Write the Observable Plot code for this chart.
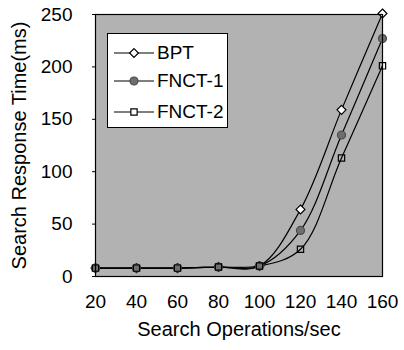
<!DOCTYPE html>
<html><head><meta charset="utf-8">
<script src="https://cdn.jsdelivr.net/npm/d3@7"></script>
<script src="https://cdn.jsdelivr.net/npm/@observablehq/plot@0.6"></script>
<style>
body{margin:0;background:#fff;}
#wrap{position:relative;width:404px;height:350px;font-family:"Liberation Sans",Arial,sans-serif;}
#legend{position:absolute;left:107px;top:33px;width:119px;height:93px;background:#fff;border:1px solid #000;}
.row{position:absolute;left:4px;height:20px;display:flex;align-items:center;font-size:19px;color:#000;}
.row svg{margin-right:3px;}
</style></head>
<body>
<div id="wrap"><div id="legend"></div></div>
<script>
const ops = [20, 40, 60, 80, 100, 120, 140, 160];
const bpt = [8, 8, 8, 9, 10, 64, 159, 251];
const fnct1 = [8, 8, 8, 9, 10, 44, 135, 227];
const fnct2 = [8, 8, 8, 9, 10, 26, 113, 201];
const seriesNames = ["BPT", "FNCT-1", "FNCT-2"];
const yTicks = [0, 50, 100, 150, 200, 250];

const seriesVals = [bpt, fnct1, fnct2];
const rows = [];
seriesNames.forEach((s, i) => ops.forEach((x, j) => rows.push({series: s, x, y: seriesVals[i][j]})));
const sym = {"BPT": {symbol: "diamond2", fill: "#fff", stroke: "#000"},
             "FNCT-1": {symbol: "circle", fill: "#6e6e6e", stroke: "#4a4a4a"},
             "FNCT-2": {symbol: "square2", fill: "none", stroke: "#000"}};

const marks = [Plot.frame({fill: "#b2b2b2"})];
seriesNames.forEach(s => {
  const d = rows.filter(r => r.series === s);
  marks.push(Plot.line(d, {x: "x", y: "y", stroke: "#000", strokeWidth: 1.2, curve: "catmull-rom"}));
});
seriesNames.forEach(s => {
  const d = rows.filter(r => r.series === s);
  marks.push(Plot.dot(d, {x: "x", y: "y", r: 4, symbol: sym[s].symbol, fill: sym[s].fill, stroke: sym[s].stroke, strokeWidth: 1.2}));
});
marks.push(Plot.frame({stroke: "#000", strokeWidth: 1.2}));
marks.push(Plot.axisX({ticks: ops, tickSize: 0, tickPadding: 18, fontSize: 19, label: null}));
marks.push(Plot.axisX({ticks: [], tickSize: 0, label: "Search Operations/sec", labelAnchor: "center", labelArrow: "none", labelOffset: 59, fontSize: 20}));
marks.push(Plot.axisY({ticks: yTicks, tickSize: 3, tickPadding: 20, fontSize: 19, label: null}));
marks.push(Plot.axisY({ticks: [], tickSize: 0, label: "Search Response Time(ms)", labelAnchor: "center", labelArrow: "none", labelOffset: 84, fontSize: 20}));

const chart = Plot.plot({
  width: 404, height: 350,
  marginLeft: 95, marginRight: 22, marginTop: 14, marginBottom: 74,
  style: {fontFamily: '"Liberation Sans", Arial, sans-serif', fontSize: "19px", color: "#000", background: "transparent"},
  x: {domain: [20, 160]},
  y: {domain: [0, 250]},
  marks
});
document.getElementById("wrap").prepend(chart);

// legend
const legend = document.getElementById("legend");
const tops = [9, 37, 68];
seriesNames.forEach((s, i) => {
  const row = document.createElement("div");
  row.className = "row";
  row.style.top = tops[i] + "px";
  const svg = d3.create("svg").attr("width", 42).attr("height", 20);
  svg.append("line").attr("x1", 2).attr("x2", 42).attr("y1", 10).attr("y2", 10).attr("stroke", "#000").attr("stroke-width", 1.2);
  const sy = sym[s];
  const shape = {"diamond2": d3.symbolDiamond2, "circle": d3.symbolCircle, "square2": d3.symbolSquare2}[sy.symbol];
  svg.append("path").attr("transform", "translate(22,10)").attr("d", d3.symbol(shape, 50)())
    .attr("fill", sy.fill === "none" ? "#fff" : sy.fill).attr("stroke", sy.stroke).attr("stroke-width", 1.2);
  row.append(svg.node());
  const t = document.createElement("span");
  t.textContent = s;
  row.append(t);
  legend.append(row);
});
</script>
</body></html>
